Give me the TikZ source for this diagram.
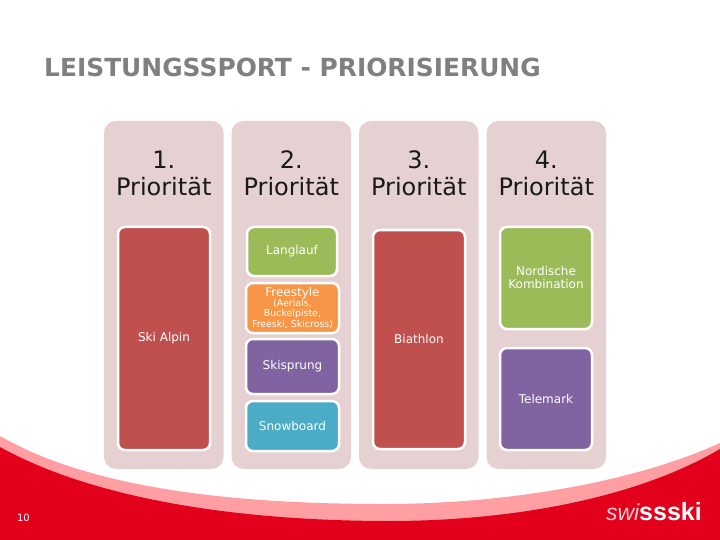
\documentclass[tikz,border=0pt]{standalone}
\usepackage{fontspec}
\setmainfont{DejaVu Sans}
\newfontfamily\logofont{Liberation Sans}
\usetikzlibrary{positioning}

\definecolor{panelcol}{HTML}{E5D1D2}
\definecolor{redcol}{HTML}{C0504D}
\definecolor{greencol}{HTML}{9BBB59}
\definecolor{orangecol}{HTML}{F79646}
\definecolor{purplecol}{HTML}{8064A2}
\definecolor{tealcol}{HTML}{4BACC6}
\definecolor{swooshred}{HTML}{E2001A}
\definecolor{swooshpink}{HTML}{FF9FA3}
\newcommand{\smalltxt}{\fontsize{9.4}{10.5}\selectfont}

\begin{document}
\begin{tikzpicture}[x=1pt,y=-1pt]
  \tikzset{panel/.style = {fill=panelcol, rounded corners=12pt, minimum width=119.5pt,
      minimum height=348pt, inner sep=0pt, outer sep=0pt}}
  \tikzset{head/.style = {font=\fontsize{24}{27}\selectfont, align=center, text=black!90, inner sep=0pt}}
  \tikzset{item/.style = {draw=white, line width=2.5pt, rounded corners=7pt, text=white,
      font=\fontsize{12}{13}\selectfont, align=center, inner sep=0pt, minimum width=92pt}}

  \useasboundingbox (0,0) rectangle (720,540);

  % background
  \fill[swooshpink] (0,436) .. controls (90,488) and (230,504) .. (385,504)
      .. controls (500,504) and (630,484) .. (720,443) -- (720,540) -- (0,540) -- cycle;
  \fill[swooshred] (0,447) .. controls (90,497) and (230,521) .. (390,521)
      .. controls (500,521) and (630,502) .. (720,449) -- (720,540) -- (0,540) -- cycle;

  \node[font=\bfseries\fontsize{24.9}{27}\selectfont, text=black!50, anchor=west, inner sep=0pt] (title) at (44,67)
      {LEISTUNGSSPORT - PRIORISIERUNG};

  % columns
  \node[panel] (P1) at (163.75,295) {};
  \node[panel, right=8pt of P1] (P2) {};
  \node[panel, right=8pt of P2] (P3) {};
  \node[panel, right=8pt of P3] (P4) {};

  \foreach \col/\num in {P1/1, P2/2, P3/3, P4/4}
    \node[head] (H\num) at (\col |- 0,173) {\num.\\Priorität};

  \node[item, fill=redcol, minimum height=223pt] (SkiAlpin) at (164,338.5) {Ski Alpin};

  \node[item, fill=greencol, minimum width=90pt, minimum height=49pt] (Langlauf) at (292,251.5) {Langlauf};
  \node[item, fill=orangecol, minimum width=93pt, minimum height=50pt] (Freestyle) at (292.5,308)
      {Freestyle\\[-3pt]\smalltxt (Aerials,\\[-2.5pt]\smalltxt Buckelpiste,\\[-2.5pt]\smalltxt Freeski, Skicross)};
  \node[item, fill=purplecol, minimum width=93pt, minimum height=55pt] (Skisprung) at (292.5,366.5) {Skisprung};
  \node[item, fill=tealcol, minimum width=93pt, minimum height=50pt] (Snowboard) at (292.5,426) {Snowboard};

  \node[item, fill=redcol, minimum height=219pt] (Biathlon) at (419,339.5) {Biathlon};

  \node[item, fill=greencol, minimum height=102pt] (Nordisch) at (546,278) {Nordische\\Kombination};
  \node[item, fill=purplecol, minimum height=102pt] (Telemark) at (546,399) {Telemark};

  % footer
  \node[text=white, font=\fontsize{10}{13}\selectfont, inner sep=0pt] (page) at (23.5,518) {10};
  \node[text=white, font=\logofont, anchor=base east, inner sep=0pt] (logo) at (702,520)
      {\textcolor{white!80!swooshred}{\fontsize{23}{25}\selectfont\itshape swi}{\fontsize{25}{25}\selectfont\bfseries ssski}};
\end{tikzpicture}
\end{document}
